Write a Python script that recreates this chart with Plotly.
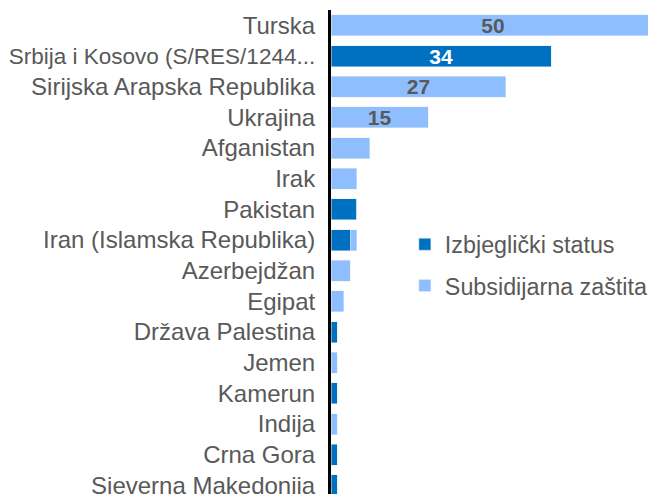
import plotly.graph_objects as go

categories = ["Turska", "Srbija i Kosovo (S/RES/1244...", "Sirijska Arapska Republika", "Ukrajina",
              "Afganistan", "Irak", "Pakistan", "Iran (Islamska Republika)", "Azerbejdžan", "Egipat",
              "Država Palestina", "Jemen", "Kamerun", "Indija", "Crna Gora", "Sjeverna Makedonija"]
tick_labels = ['<span style="font-size:22.5px">' + c + '</span>' if c.startswith("Srbija") else c
               for c in categories]
refugee_status = [0, 34, 0, 0, 0, 0, 4, 3, 0, 0, 1, 0, 1, 0, 1, 1]
subsidiary_protection = [50, 0, 27, 15, 6, 4, 0, 1, 3, 2, 0, 1, 0, 1, 0, 0]
series_names = ["Izbjeglički status", "Subsidijarna zaštita"]

def labels(vals):
    return [str(v) if v >= 15 else "" for v in vals]

fig = go.Figure()
fig.add_trace(go.Bar(y=categories, x=refugee_status, orientation="h", name=series_names[0],
                     marker=dict(color="#0070C0"), text=labels(refugee_status),
                     textposition="inside", insidetextanchor="middle", textangle=0, constraintext="none",
                     textfont=dict(color="white", size=21, family="Liberation Sans", weight="bold"),
                     legendgroup="a", hoverinfo="x+y"))
fig.add_trace(go.Bar(y=categories, x=subsidiary_protection, orientation="h", name=series_names[1],
                     marker=dict(color="#8FBEFF"), text=labels(subsidiary_protection),
                     textposition="inside", insidetextanchor="middle", textangle=0, constraintext="none",
                     textfont=dict(color="#595959", size=21, family="Liberation Sans", weight="bold"),
                     legendgroup="b", hoverinfo="x+y"))

fig.update_layout(
    width=648, height=486,
    margin=dict(l=323, r=1, t=2, b=0, autoexpand=False),
    barmode="stack", bargap=0.315,
    plot_bgcolor="white", paper_bgcolor="white",
    font=dict(family="Liberation Sans", color="#595959", size=23),
    legend=dict(x=0.228, y=0.473, xanchor="left", yanchor="middle",
                font=dict(size=23.3, color="#595959"), traceorder="grouped", tracegroupgap=8,
                bgcolor="rgba(0,0,0,0)"),
    xaxis=dict(range=[0, 50], showgrid=False, zeroline=False, showticklabels=False, showline=False,
               automargin=False),
    yaxis=dict(type="category", range=[15.28, -0.5], showgrid=False, zeroline=False,
               showline=True, linecolor="black", linewidth=3, ticks="", automargin=False,
               tickmode="array", tickvals=categories, ticktext=tick_labels,
               ticklabelstandoff=8, tickfont=dict(size=24, color="#595959")),
)

fig.write_html("out.html")
